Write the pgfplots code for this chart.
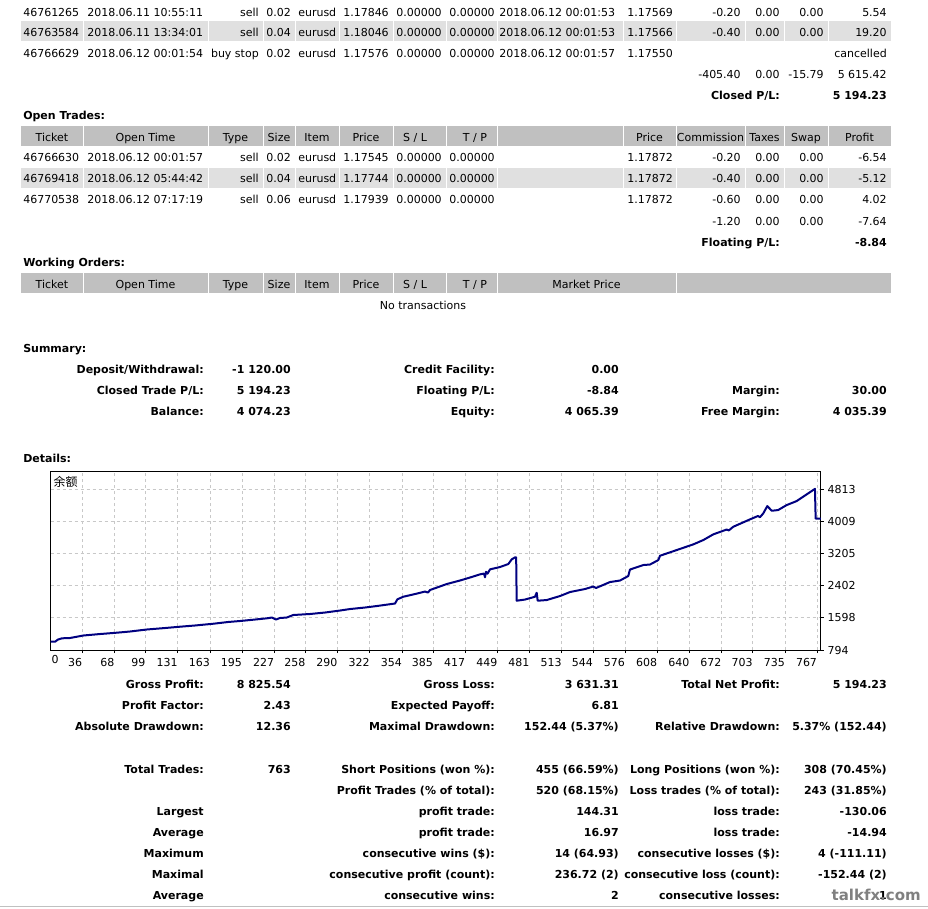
\documentclass[border=0pt]{standalone}
\usepackage{fontspec}
\setmainfont{DejaVu Sans}
\newfontfamily\cjk{Noto Sans CJK SC}
\usepackage{pgfplots}
\pgfplotsset{compat=1.18}
\definecolor{hdr}{HTML}{C0C0C0}
\definecolor{rowgray}{HTML}{E0E0E0}
\definecolor{navy}{HTML}{000080}
\definecolor{gridc}{HTML}{C8C8C8}

% one trade row, left half: y ticket time type size item price sl tp
\newcommand\rowL[9]{%
  \node[t] at (23,#1) {#2};
  \node[t] at (87,#1) {#3};
  \node[r] at (259,#1) {#4};
  \node[t] at (266,#1) {#5};
  \node[t] at (298,#1) {#6};
  \node[t] at (343,#1) {#7};
  \node[t] at (396,#1) {#8};
  \node[t] at (449,#1) {#9};}
% right half: y closetime price commission taxes swap profit
\newcommand\rowR[7]{%
  \node[t] at (499,#1) {#2};
  \node[t] at (627,#1) {#3};
  \node[r] at (741,#1) {#4};
  \node[r] at (780,#1) {#5};
  \node[r] at (824,#1) {#6};
  \node[r] at (887,#1) {#7};}
% summary line: y label value at the three label/value columns
\newcommand\sumA[3]{\node[r,b] at (204,#1) {#2}; \node[r,b] at (291,#1) {#3};}
\newcommand\sumB[3]{\node[r,b] at (495,#1) {#2}; \node[r,b] at (619,#1) {#3};}
\newcommand\sumC[3]{\node[r,b] at (780,#1) {#2}; \node[r,b] at (887,#1) {#3};}
% table header labels
\newcommand\hdrleft[1]{%
  \node[c] at (52,#1) {Ticket};
  \node[c] at (145.5,#1) {Open Time};
  \node[c] at (235.5,#1) {Type};
  \node[c] at (279,#1) {Size};
  \node[c] at (317,#1) {Item};
  \node[c] at (366,#1) {Price};
  \node[c] at (415,#1) {S / L};
  \node[c] at (475,#1) {T / P};}

\begin{document}
\begin{tikzpicture}
\begin{scope}[x=0.75pt,y=-0.75pt,
  t/.style={inner sep=0pt,anchor=base west,font=\fontsize{8.25}{10}\selectfont},
  r/.style={t,anchor=base east},
  c/.style={t,anchor=base},
  b/.style={font=\fontsize{8.25}{10}\selectfont\bfseries}]
\path[use as bounding box] (0,0) rectangle (928,908);
\fill[white] (0,0) rectangle (928,908);

% closed trades (top cut off)
\fill[rowgray] (21,21) rectangle (891,41);
\foreach \xx in {83,208,263,295,339,393,446,497,623,676,745,784,828}
  \draw[white,line width=0.75pt] (\xx,21)--(\xx,41);
\rowL{16}{46761265}{2018.06.11 10:55:11}{sell}{0.02}{eurusd}{1.17846}{0.00000}{0.00000}
\rowR{16}{2018.06.12 00:01:53}{1.17569}{-0.20}{0.00}{0.00}{5.54}
\rowL{36.5}{46763584}{2018.06.11 13:34:01}{sell}{0.04}{eurusd}{1.18046}{0.00000}{0.00000}
\rowR{36.5}{2018.06.12 00:01:53}{1.17566}{-0.40}{0.00}{0.00}{19.20}
\rowL{57}{46766629}{2018.06.12 00:01:54}{buy stop}{0.02}{eurusd}{1.17576}{0.00000}{0.00000}
\rowR{57}{2018.06.12 00:01:57}{1.17550}{}{}{}{cancelled}
\node[r] at (741,78) {-405.40};
\node[r] at (780,78) {0.00};
\node[r] at (824,78) {-15.79};
\node[r] at (887,78) {5 615.42};
\node[r,b] at (780,99) {Closed P/L:};
\node[r,b] at (887,99) {5 194.23};

% open trades
\node[t,b] at (23,119) {Open Trades:};
\fill[hdr] (21,126) rectangle (891,146);
\fill[rowgray] (21,168) rectangle (891,188);
\foreach \xx in {83,208,263,295,339,393,446,497,623,676,745,784,828} {
  \draw[white,line width=0.75pt] (\xx,126)--(\xx,146);
  \draw[white,line width=0.75pt] (\xx,168)--(\xx,188);}
\hdrleft{141}
\node[c] at (649.5,141) {Price};
\node[c] at (710.5,141) {Commission};
\node[c] at (764.5,141) {Taxes};
\node[c] at (806,141) {Swap};
\node[c] at (859.5,141) {Profit};
\rowL{161.7}{46766630}{2018.06.12 00:01:57}{sell}{0.02}{eurusd}{1.17545}{0.00000}{0.00000}
\rowR{161.7}{}{1.17872}{-0.20}{0.00}{0.00}{-6.54}
\rowL{182.7}{46769418}{2018.06.12 05:44:42}{sell}{0.04}{eurusd}{1.17744}{0.00000}{0.00000}
\rowR{182.7}{}{1.17872}{-0.40}{0.00}{0.00}{-5.12}
\rowL{203.7}{46770538}{2018.06.12 07:17:19}{sell}{0.06}{eurusd}{1.17939}{0.00000}{0.00000}
\rowR{203.7}{}{1.17872}{-0.60}{0.00}{0.00}{4.02}
\rowR{225}{}{}{-1.20}{0.00}{0.00}{-7.64}
\node[r,b] at (780,246) {Floating P/L:};
\node[r,b] at (887,246) {-8.84};

% working orders
\node[t,b] at (23,266) {Working Orders:};
\fill[hdr] (21,273) rectangle (891,293);
\foreach \xx in {83,208,263,295,339,393,446,497,676}
  \draw[white,line width=0.75pt] (\xx,273)--(\xx,293);
\hdrleft{288.5}
\node[c] at (586.5,288.5) {Market Price};
\node[c] at (423,309.5) {No transactions};

% summary
\node[t,b] at (23,352) {Summary:};
\sumA{373}{Deposit/Withdrawal:}{-1 120.00}
\sumB{373}{Credit Facility:}{0.00}
\sumA{394}{Closed Trade P/L:}{5 194.23}
\sumB{394}{Floating P/L:}{-8.84}
\sumC{394}{Margin:}{30.00}
\sumA{415}{Balance:}{4 074.23}
\sumB{415}{Equity:}{4 065.39}
\sumC{415}{Free Margin:}{4 035.39}

\node[t,b] at (23,462) {Details:};

% details
\sumA{688}{Gross Profit:}{8 825.54}
\sumB{688}{Gross Loss:}{3 631.31}
\sumC{688}{Total Net Profit:}{5 194.23}
\sumA{709}{Profit Factor:}{2.43}
\sumB{709}{Expected Payoff:}{6.81}
\sumA{730}{Absolute Drawdown:}{12.36}
\sumB{730}{Maximal Drawdown:}{152.44 (5.37\%)}
\sumC{730}{Relative Drawdown:}{5.37\% (152.44)}
\sumA{773}{Total Trades:}{763}
\sumB{773}{Short Positions (won \%):}{455 (66.59\%)}
\sumC{773}{Long Positions (won \%):}{308 (70.45\%)}
\sumB{794}{Profit Trades (\% of total):}{520 (68.15\%)}
\sumC{794}{Loss trades (\% of total):}{243 (31.85\%)}
\sumA{815}{Largest}{}
\sumB{815}{profit trade:}{144.31}
\sumC{815}{loss trade:}{-130.06}
\sumA{836}{Average}{}
\sumB{836}{profit trade:}{16.97}
\sumC{836}{loss trade:}{-14.94}
\sumA{857}{Maximum}{}
\sumB{857}{consecutive wins (\$):}{14 (64.93)}
\sumC{857}{consecutive losses (\$):}{4 (-111.11)}
\sumA{878}{Maximal}{}
\sumB{878}{consecutive profit (count):}{236.72 (2)}
\sumC{878}{consecutive loss (count):}{-152.44 (2)}
\sumA{899}{Average}{}
\sumB{899}{consecutive wins:}{2}
\sumC{899}{consecutive losses:}{1}
\node[anchor=base east,inner sep=0pt,font=\fontsize{11.25}{12}\selectfont\bfseries,text=black!50] at (921,900) {talkfx.com};
\draw[hdr,line width=0.75pt] (0,906)--(928,906);
\end{scope}

\begin{axis}[
    at={(38.03pt,-487.5pt)}, anchor=south west,
    scale only axis, width=577.7pt, height=133.7pt,
    clip mode=individual,
    xmin=4.5, xmax=770.7, ymin=794, ymax=5245,
    xtick={36,68,99,131,163,195,227,258,290,322,354,385,417,449,481,513,544,576,608,640,672,703,735,767},
    ytick={794,1598,2402,3205,4009,4813},
    xtick pos=bottom, ytick pos=right, yticklabel pos=right,
    tick align=outside, major tick length=2.25pt,
    tick style={black,line width=0.75pt},
    grid=major,
    major grid style={gridc,dash pattern=on 2.25pt off 2.25pt,line width=0.75pt},
    axis line style={black,line width=0.75pt},
    axis background/.style={fill=white},
    ticklabel style={font=\fontsize{8.25}{10}\selectfont},
    /pgf/number format/assume math mode=true,
    /pgf/number format/1000 sep={},
    xticklabel style={anchor=north east,inner sep=0pt,yshift=-3.75pt},
    yticklabel style={anchor=west,inner sep=0pt,xshift=2.6pt},
]
\addplot[navy,line width=1.5pt,line join=round,mark=none] coordinates {
(4.5,1001) (8.8,1001) (11.8,1056) (15.7,1086) (23.7,1094) (36.9,1156) (53.5,1193)
(70.1,1226) (83.4,1256) (100,1306) (118.2,1343) (133.1,1376) (148,1406) (166.2,1450)
(180.8,1493) (192.8,1518) (207.7,1555) (219.4,1585) (224.6,1605) (228.6,1555) (232.5,1593)
(239.3,1605) (245.8,1668) (262.4,1693) (277.4,1730) (292.3,1780) (302.2,1817) (317.1,1855)
(328.8,1892) (347,1955) (349.3,2059) (355.2,2124) (366.9,2192) (376.8,2254) (379.8,2229)
(381.8,2292) (398.4,2441) (411.6,2529) (421.6,2604) (431.5,2683) (435.5,2703) (436.5,2609)
(437.5,2748) (439,2700) (441.5,2808) (451.4,2866) (459.7,2941) (463.1,3058) (466.4,3108)
(467.5,3108) (468,2025) (476.3,2054) (486.2,2124) (487.9,2224) (488.9,2025) (497.9,2042)
(511.1,2142) (521.1,2242) (536,2317) (544.2,2379) (546.9,2342) (560.8,2491) (570.8,2529)
(579,2641) (580.7,2803) (594,2916) (600.6,2928) (608.9,3040) (610.6,3148) (627.2,3290)
(643.7,3432) (653.7,3540) (663.6,3682) (676.9,3802) (679,3780) (683.5,3872) (700.1,4056)
(708,4140) (710,4110) (713.3,4206) (717.3,4388) (721.7,4271) (728,4288) (736.6,4413)
(746.5,4513) (764.7,4818) (765.4,4074) (770.7,4074)
};
\node[anchor=north west,inner sep=0pt,font=\fontsize{8.25}{10}\selectfont,xshift=0.5pt,yshift=-3.75pt] at (rel axis cs:0,0) {0};
\node[anchor=north west,inner sep=0pt,font=\cjk\fontsize{9}{10}\selectfont,xshift=2pt,yshift=-3pt] at (rel axis cs:0,1) {余额};
\end{axis}
\end{tikzpicture}
\end{document}
